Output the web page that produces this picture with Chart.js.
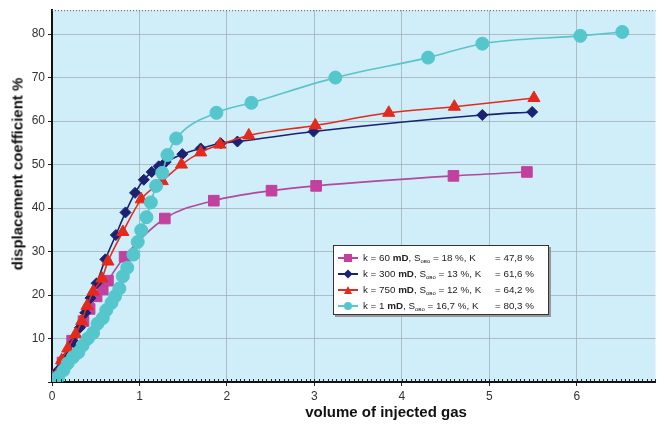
<!DOCTYPE html>
<html>
<head>
<meta charset="utf-8">
<script src="https://cdn.jsdelivr.net/npm/chart.js@4.4.1/dist/chart.umd.min.js"></script>
<style>
    body { margin: 0; background: #fff; }
    #wrap { position: relative; width: 664px; height: 425px; font-family: "Liberation Sans", Arial, sans-serif; }
    #y_title { position: absolute; left: 17px; top: 174px; transform: translate(-50%, -50%) rotate(-90deg);
        font-size: 15px; font-weight: bold; white-space: nowrap; color: #111; }
    #x_title { position: absolute; left: 386px; top: 411px; transform: translate(-50%, -50%);
        font-size: 15px; font-weight: bold; white-space: nowrap; color: #111; }
    #legend { position: absolute; left: 333px; top: 245px; width: 214px; height: 68px;
        background: #fff; border: 1.5px solid #333; box-shadow: 2px 2px 0 #999; font-size: 9.8px; color: #222; }
    .row { position: absolute; left: 0; height: 16px; width: 100%; }
    .row .ln { position: absolute; left: 4px; top: 7px; width: 20px; height: 2px; }
    .row .mk { position: absolute; left: 10px; top: 4px; width: 8px; height: 8px; }
    .row .t1 { position: absolute; left: 29px; top: 2px; white-space: nowrap; }
    .row .t2 { position: absolute; left: 161px; top: 2px; white-space: nowrap; }
    sub { font-size: 6px; vertical-align: -2px; }
</style>
</head>
<body>
<div id="wrap">
    <canvas id="myChart" width="664" height="425"></canvas>
    <div id="y_title">displacement coefficient %</div>
    <div id="x_title">volume of injected gas</div>
    <div id="legend"></div>
</div>
<script>
// k = 60 mD
const mag_x = [0.05, 0.12, 0.23, 0.36, 0.43, 0.51, 0.58, 0.64, 0.83, 1.29, 1.85, 2.51, 3.02, 4.59, 5.43];
const mag_y = [1.5, 4.5, 9.5, 14.0, 16.8, 19.7, 21.3, 23.3, 28.8, 37.6, 41.7, 44.0, 45.1, 47.4, 48.3];
// k = 300 mD
const navy_x = [0.03, 0.07, 0.13, 0.18, 0.25, 0.32, 0.38, 0.44, 0.51, 0.61, 0.73, 0.84, 0.95, 1.05, 1.14, 1.22, 1.30, 1.49, 1.70, 1.93, 2.12, 2.99, 4.92, 5.49];
const navy_y = [1.0, 2.7, 4.5, 6.1, 9.1, 12.5, 15.9, 19.3, 22.7, 28.2, 33.8, 39.0, 43.5, 46.5, 48.3, 49.6, 50.6, 52.4, 53.7, 54.9, 55.3, 57.6, 61.4, 62.1];
// k = 750 mD
const red_x = [0.05, 0.11, 0.18, 0.27, 0.34, 0.40, 0.47, 0.57, 0.64, 0.81, 1.02, 1.26, 1.48, 1.70, 1.92, 2.25, 3.01, 3.85, 4.60, 5.51];
const red_y = [1.5, 5.0, 7.7, 11.0, 14.0, 17.5, 20.8, 23.8, 27.7, 34.5, 42.0, 46.2, 50.0, 52.8, 54.6, 56.7, 59.0, 61.9, 63.3, 65.3];
// k = 1 mD
const cyan_x = [0.0, 0.07, 0.13, 0.18, 0.24, 0.30, 0.35, 0.41, 0.47, 0.52, 0.58, 0.62, 0.68, 0.72, 0.77, 0.81, 0.86, 0.93, 0.98, 1.02, 1.08, 1.13, 1.19, 1.26, 1.32, 1.42, 1.88, 2.28, 3.24, 4.30, 4.92, 6.04, 6.52];
const cyan_y = [0.3, 1.1, 2.7, 4.3, 5.7, 6.8, 8.4, 10.0, 11.3, 13.4, 14.7, 16.5, 18.2, 19.7, 21.5, 24.3, 26.3, 29.3, 32.2, 34.9, 37.9, 41.3, 45.1, 48.1, 52.2, 56.0, 61.9, 64.2, 70.0, 74.6, 77.8, 79.6, 80.5];

const x_ticks = [0, 1, 2, 3, 4, 5, 6];
const y_ticks = [0, 10, 20, 30, 40, 50, 60, 70, 80];

const legend_rows = [
    ['k = 60 <b>mD</b>, S<sub>ово</sub> = 18 %, K', '= 47,8 %', '#c2409e', 'rect'],
    ['k = 300 <b>mD</b>, S<sub>ово</sub> = 13 %, K', '= 61,6 %', '#1c2272', 'rectRot'],
    ['k = 750 <b>mD</b>, S<sub>ово</sub> = 12 %, K', '= 64,2 %', '#e42a1c', 'triangle'],
    ['k = 1 <b>mD</b>, S<sub>ово</sub> = 16,7 %, K', '= 80,3 %', '#55c7cc', 'circle'],
];

function pts(xs, ys) {
    return xs.map((x, i) => ({ x: x, y: ys[i] }));
}

function make_legend() {
    let box = document.getElementById('legend');
    legend_rows.forEach((r, i) => {
        let row = document.createElement('div');
        row.className = 'row';
        row.style.top = (4 + i * 16) + 'px';
        let mk_style = 'background:' + r[2] + ';';
        if (r[3] === 'circle') mk_style += 'border-radius:50%;';
        if (r[3] === 'rectRot') mk_style += 'transform:rotate(45deg) scale(0.8);';
        if (r[3] === 'triangle') mk_style += 'clip-path:polygon(50% 0,100% 100%,0 100%);';
        row.innerHTML = '<div class="ln" style="background:' + r[2] + '"></div>' +
            '<div class="mk" style="' + mk_style + '"></div>' +
            '<span class="t1">' + r[0] + '</span><span class="t2">' + r[1] + '</span>';
        box.appendChild(row);
    });
}

const bg_plugin = {
    id: 'bg_plugin',
    beforeDraw(chart) {
        const a = chart.chartArea;
        const ctx = chart.ctx;
        ctx.save();
        ctx.fillStyle = '#cfeef9';
        ctx.fillRect(a.left, a.top, a.right - a.left, a.bottom - a.top);
        ctx.restore();
    },
    afterDraw(chart) {
        const a = chart.chartArea;
        const ctx = chart.ctx;
        const xs = chart.scales.x;
        ctx.save();
        ctx.strokeStyle = '#555';
        ctx.lineWidth = 1;
        ctx.setLineDash([1, 2]);
        ctx.beginPath();
        ctx.moveTo(a.left, a.top + 0.5);
        ctx.lineTo(a.right, a.top + 0.5);
        ctx.stroke();
        ctx.setLineDash([]);
        ctx.strokeStyle = '#222';
        ctx.beginPath();
        for (let v = 0.05; v < xs.max; v += 0.05) {
            const px = Math.round(xs.getPixelForValue(v)) + 0.5;
            ctx.moveTo(px, a.bottom);
            ctx.lineTo(px, a.bottom - 3);
        }
        ctx.stroke();
        ctx.restore();
    }
};

function ds(label, xs, ys, color, line_color, style, radius, order) {
    return {
        label: label,
        data: pts(xs, ys),
        borderColor: line_color,
        backgroundColor: color,
        pointBackgroundColor: color,
        pointBorderColor: color,
        pointStyle: style,
        pointRadius: radius,
        pointBorderWidth: 1,
        borderWidth: 1.6,
        cubicInterpolationMode: 'monotone',
        order: order
    };
}

window.onload = () => {
    make_legend();
    const ctx = document.getElementById('myChart').getContext('2d');
    new Chart(ctx, {
        type: 'line',
        data: {
            datasets: [
                ds('k = 60 mD', mag_x, mag_y, '#c2409e', '#b04a9c', 'rect', 7.5, 3),
                ds('k = 300 mD', navy_x, navy_y, '#1c2272', '#1c2272', 'rectRot', 5.5, 2),
                ds('k = 750 mD', red_x, red_y, '#e42a1c', '#e42a1c', 'triangle', 7, 1),
                ds('k = 1 mD', cyan_x, cyan_y, '#55c7cc', '#5cc4c8', 'circle', 6.5, 0)
            ]
        },
        plugins: [bg_plugin],
        options: {
            responsive: false,
            animation: false,
            layout: { padding: { top: 5, right: 2, left: 0, bottom: 0 } },
            plugins: {
                legend: { display: false },
                tooltip: { enabled: false }
            },
            scales: {
                x: {
                    type: 'linear',
                    min: 0,
                    max: 6.9,
                    afterBuildTicks: s => { s.ticks = x_ticks.map(v => ({ value: v })); },
                    afterFit: s => { s.height = 43; },
                    ticks: {
                        color: '#333',
                        font: { size: 12, family: 'Liberation Sans' },
                        padding: 3,
                        maxRotation: 0
                    },
                    grid: {
                        color: 'rgba(160,172,178,0.75)',
                        tickColor: '#222',
                        tickLength: 4
                    },
                    border: { color: '#111', width: 2 }
                },
                y: {
                    min: 0,
                    max: 85.5,
                    afterBuildTicks: s => { s.ticks = y_ticks.map(v => ({ value: v })); },
                    afterFit: s => { s.width = 52; },
                    ticks: {
                        color: '#333',
                        font: { size: 12, family: 'Liberation Sans' },
                        padding: 3,
                        callback: v => (v === 0 ? '' : v)
                    },
                    grid: {
                        color: 'rgba(160,172,178,0.75)',
                        tickColor: '#222',
                        tickLength: 4
                    },
                    border: { color: '#111', width: 2 }
                }
            }
        }
    });
}
</script>
</body>
</html>
